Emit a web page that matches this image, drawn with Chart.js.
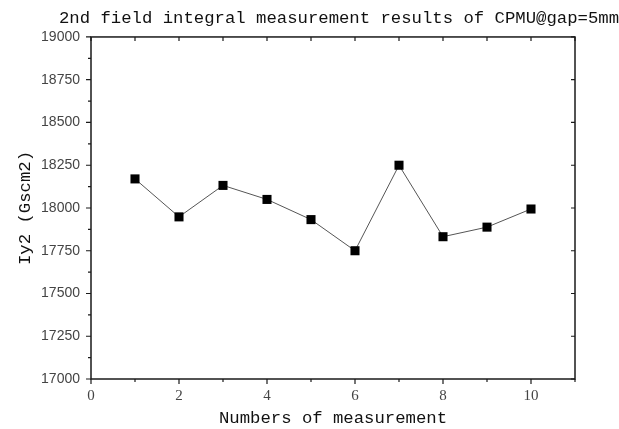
<!DOCTYPE html>
<html>
<head>
<meta charset="utf-8">
<script src="https://cdn.jsdelivr.net/npm/chart.js@4.4.1/dist/chart.umd.min.js"></script>
<style>
  html, body { margin: 0; padding: 0; background: #fff; }
  #wrap { width: 619px; height: 429px; }
</style>
</head>
<body>
<div id="wrap"><canvas id="chart" width="619" height="429"></canvas></div>
<script>
// measurement index and integral values
const runs = [1, 2, 3, 4, 5, 6, 7, 8, 9, 10];
const iy2 = [18170, 17948, 18132, 18050, 17932, 17750, 18250, 17832, 17888, 17994];
const xTicks = [0, 2, 4, 6, 8, 10];
const yTicks = [17000, 17250, 17500, 17750, 18000, 18250, 18500, 18750, 19000];

const monoFont = { family: '"Liberation Mono", monospace', size: 17.3, weight: 'normal' };

// frame with ticks on all four sides
const framePlugin = {
  id: 'frame',
  afterDraw(chart) {
    const { ctx, chartArea: a, scales: { x, y } } = chart;
    ctx.save();
    ctx.strokeStyle = '#1a1a1a';
    ctx.lineWidth = 1.5;
    ctx.strokeRect(a.left, a.top, a.right - a.left, a.bottom - a.top);
    ctx.lineWidth = 1.2;
    ctx.beginPath();
    for (let v = x.min; v <= x.max; v++) {
      const px = x.getPixelForValue(v);
      const len = v % 2 === 0 ? 5 : 3;
      ctx.moveTo(px, a.bottom); ctx.lineTo(px, a.bottom + len);
      ctx.moveTo(px, a.top); ctx.lineTo(px, a.top + 4);
    }
    for (let v = y.min; v <= y.max; v += 125) {
      const py = y.getPixelForValue(v);
      const major = (v - y.min) % 250 === 0;
      ctx.moveTo(a.left, py); ctx.lineTo(a.left - (major ? 5 : 3), py);
      if (major) { ctx.moveTo(a.right, py); ctx.lineTo(a.right - 4, py); }
    }
    ctx.stroke();
    ctx.restore();
  }
};

new Chart(document.getElementById('chart'), {
  type: 'scatter',
  data: {
    datasets: [{
      data: runs.map((r, i) => ({ x: r, y: iy2[i] })),
      showLine: true,
      borderColor: '#555',
      borderWidth: 1,
      backgroundColor: '#000',
      pointStyle: 'rect',
      pointRadius: 6.4,
      pointBorderWidth: 0,
      pointBorderColor: '#000'
    }]
  },
  options: {
    responsive: false,
    animation: false,
    layout: { padding: 0 },
    plugins: {
      legend: { display: false },
      tooltip: { enabled: false },
      title: {
        display: true,
        text: '2nd field integral measurement results of CPMU@gap=5mm',
        align: 'end',
        color: '#111',
        font: monoFont,
        padding: { top: 8, bottom: 8.2 }
      }
    },
    scales: {
      x: {
        type: 'linear',
        min: 0,
        max: 11,
        afterFit(s) { s.height = 50; },
        afterBuildTicks(s) { s.ticks = xTicks.map(v => ({ value: v })); },
        grid: { display: false, drawTicks: false },
        border: { display: false },
        ticks: {
          color: '#444',
          padding: 8,
          font: { family: '"Liberation Serif", serif', size: 15 },
          callback: v => String(v)
        },
        title: {
          display: true,
          text: 'Numbers of measurement',
          color: '#111',
          font: monoFont,
          padding: { top: 0, bottom: 0 }
        }
      },
      y: {
        min: 17000,
        max: 19000,
        afterFit(s) { s.width = 91; },
        afterBuildTicks(s) { s.ticks = yTicks.map(v => ({ value: v })); },
        grid: { display: false, drawTicks: false },
        border: { display: false },
        ticks: {
          color: '#444',
          padding: 11,
          font: { family: '"Liberation Sans", sans-serif', size: 14 },
          callback: v => String(v)
        },
        title: {
          display: true,
          text: 'Iy2 (Gscm2)',
          color: '#111',
          font: monoFont,
          padding: { top: 15, bottom: 0 }
        }
      },
      y2: {
        position: 'right',
        min: 17000,
        max: 19000,
        afterFit(s) { s.width = 44; },
        grid: { display: false, drawTicks: false },
        border: { display: false },
        ticks: { display: false }
      }
    }
  },
  plugins: [framePlugin]
});
</script>
</body>
</html>
